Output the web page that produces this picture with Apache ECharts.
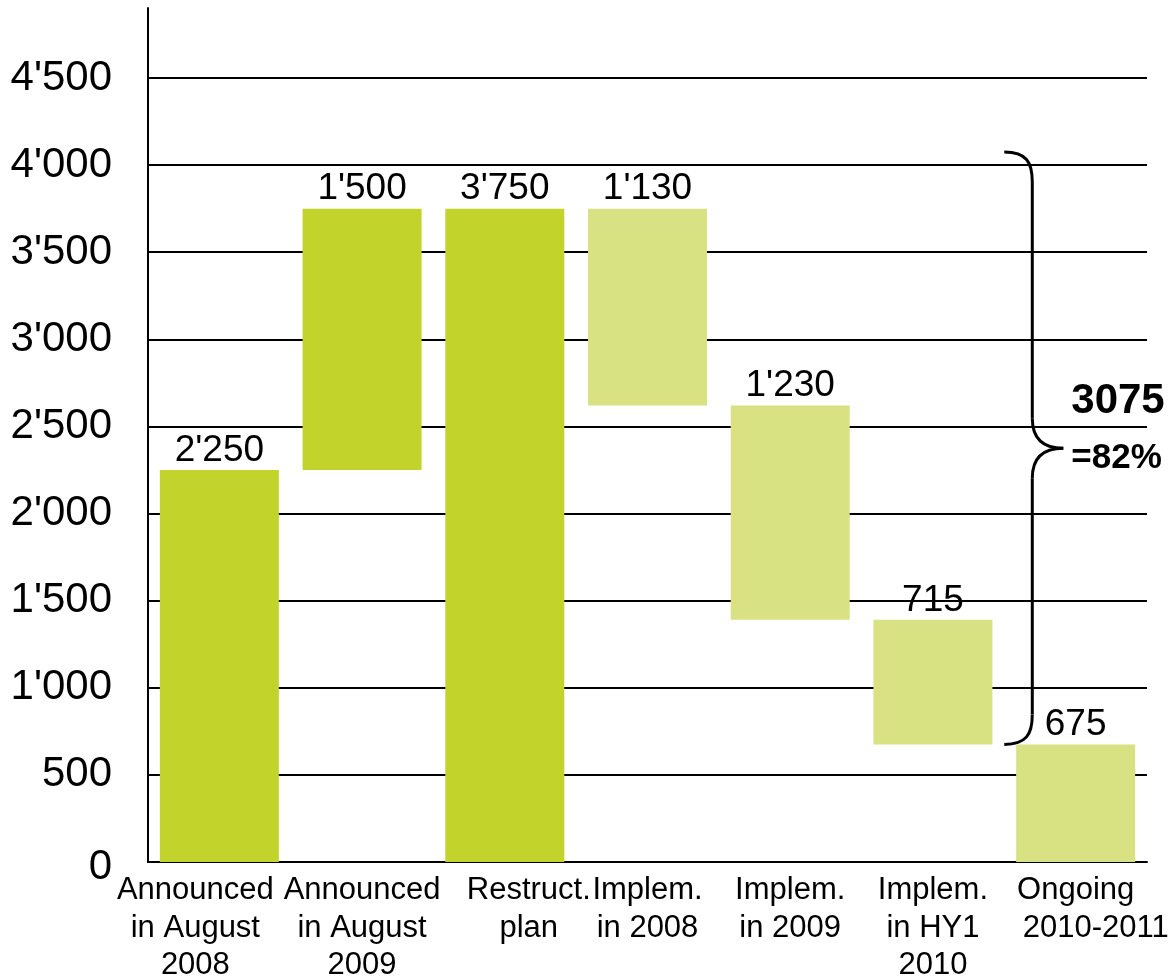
<!DOCTYPE html>
<html>
<head>
<meta charset="utf-8">
<script src="https://cdn.jsdelivr.net/npm/echarts@6/dist/echarts.min.js"></script>
<style>
html, body { margin: 0; padding: 0; background: #fff; }
#chart { width: 1171px; height: 976px; }
</style>
</head>
<body>
<div id="chart"></div>
<script>
// data
const categories = [
  "Announced\nin August\n2008",
  "Announced\nin August\n2009",
  "Restruct.\nplan",
  "Implem.\nin 2008",
  "Implem.\nin 2009",
  "Implem.\nin HY1\n2010",
  "Ongoing\n2010-2011"
];
const values = [2250, 1500, 3750, 1130, 1230, 715, 675];
const steps = ["up", "up", "total", "down", "down", "down", "down"];
const yMin = 0, yMax = 4500, yStep = 500;
const braceRange = [675, 4075];
const braceText = ["3075", "=82%"];

const FONT = "'Liberation Sans', Arial, sans-serif";
const DARK = "#C2D32B";
const LIGHT = "#D8E282";

// running totals -> invisible base of each floating bar
let running = 0;
const bases = values.map((v, i) => {
  if (steps[i] === "up") { let b = running; running += v; return b; }
  if (steps[i] === "total") { running = v; return 0; }
  running -= v;
  return running;
});

function fmt(v) {
  return String(v).replace(/\B(?=(\d{3})+(?!\d))/g, "'");
}

let myChart = echarts.init(document.getElementById("chart"));
let options = {
  animation: false,
  grid: [
    { left: 148, right: 24, top: 78, bottom: 114, outerBoundsMode: "none", containLabel: false },
    { left: 148, right: 24, top: 8, bottom: 114, outerBoundsMode: "none", containLabel: false }
  ],
  xAxis: [
    {
      type: "category",
      data: categories,
      gridIndex: 0,
      axisLine: { lineStyle: { color: "#000", width: 2 } },
      axisTick: { show: false },
      axisLabel: {
        interval: 0,
        margin: 10,
        formatter: function (val, idx) {
          return val.split("\n").map(function (line, li) {
            let s = "n";
            if (idx === 0) s = "l";
            if (idx === 2) s = "r";
            if (idx === 6 && li === 1) s = "o";
            return "{" + s + "|" + line + "}";
          }).join("\n");
        },
        rich: {
          n: { fontSize: 31, lineHeight: 37.5, fontFamily: FONT, color: "#000" },
          l: { fontSize: 31, lineHeight: 37.5, fontFamily: FONT, color: "#000", padding: [0, 48, 0, 0] },
          r: { fontSize: 31, lineHeight: 37.5, fontFamily: FONT, color: "#000", padding: [0, 0, 0, 48] },
          o: { fontSize: 31, lineHeight: 37.5, fontFamily: FONT, color: "#000", padding: [0, 0, 0, 40] }
        }
      }
    },
    { type: "value", gridIndex: 1, show: false, min: 0, max: 1 }
  ],
  yAxis: [
    {
      type: "value",
      gridIndex: 0,
      min: yMin,
      max: yMax,
      interval: yStep,
      axisLine: { show: true, lineStyle: { color: "#000", width: 2 } },
      axisTick: { show: false },
      splitLine: { lineStyle: { color: "#000", width: 2 } },
      axisLabel: {
        margin: 36,
        color: "#000",
        fontSize: 42,
        fontFamily: FONT,
        formatter: function (v) {
          return v === 0 ? "{z|0}" : fmt(v);
        },
        rich: {
          z: { fontSize: 42, fontFamily: FONT, color: "#000", padding: [10, 0, 0, 0] }
        }
      }
    },
    {
      type: "value",
      gridIndex: 1,
      min: 0,
      max: 1,
      axisLine: { show: true, lineStyle: { color: "#000", width: 2 } },
      axisTick: { show: false },
      axisLabel: { show: false },
      splitLine: { show: false }
    }
  ],
  series: [
    {
      name: "base",
      type: "bar",
      stack: "w",
      silent: true,
      barWidth: 119,
      itemStyle: { color: "transparent" },
      data: bases
    },
    {
      name: "value",
      type: "bar",
      stack: "w",
      barWidth: 119,
      data: values.map(function (v, i) {
        return { value: v, itemStyle: { color: steps[i] === "down" ? LIGHT : DARK } };
      }),
      label: {
        show: true,
        position: "top",
        distance: 1,
        color: "#000",
        fontSize: 37,
        fontFamily: FONT,
        formatter: function (p) { return fmt(p.value); }
      }
    },
    { type: "line", xAxisIndex: 1, yAxisIndex: 1, data: [] }
  ]
};
myChart.setOption(options);

// curly brace + total annotation
let xa = myChart.convertToPixel({ xAxisIndex: 0 }, 5);
let xb = myChart.convertToPixel({ xAxisIndex: 0 }, 6);
let x0 = (xa + xb) / 2;
let yTop = myChart.convertToPixel({ yAxisIndex: 0 }, braceRange[1]);
let yBot = myChart.convertToPixel({ yAxisIndex: 0 }, braceRange[0]);
let yMid = (yTop + yBot) / 2;
let xv = x0 + 28, xt = x0 + 59;
let stroke = { stroke: "#000", lineWidth: 3, fill: "none" };

myChart.setOption({
  graphic: [
    { type: "bezierCurve", shape: { x1: x0, y1: yTop, cpx1: x0 + 22, cpy1: yTop, cpx2: xv, cpy2: yTop + 10, x2: xv, y2: yTop + 30 }, style: stroke },
    { type: "line", shape: { x1: xv, y1: yTop + 30, x2: xv, y2: yMid - 30 }, style: stroke },
    { type: "bezierCurve", shape: { x1: xv, y1: yMid - 30, cpx1: xv, cpy1: yMid - 8, cpx2: xv + 12, cpy2: yMid, x2: xt, y2: yMid }, style: stroke },
    { type: "bezierCurve", shape: { x1: xt, y1: yMid, cpx1: xv + 12, cpy1: yMid, cpx2: xv, cpy2: yMid + 8, x2: xv, y2: yMid + 30 }, style: stroke },
    { type: "line", shape: { x1: xv, y1: yMid + 30, x2: xv, y2: yBot - 30 }, style: stroke },
    { type: "bezierCurve", shape: { x1: xv, y1: yBot - 30, cpx1: xv, cpy1: yBot - 10, cpx2: x0 + 22, cpy2: yBot, x2: x0, y2: yBot }, style: stroke },
    {
      type: "text",
      style: { text: braceText[0], x: xt + 8, y: yMid - 47, font: "bold 42px " + FONT, fill: "#000", textVerticalAlign: "middle" }
    },
    {
      type: "text",
      style: { text: braceText[1], x: xt + 8, y: yMid + 10, font: "bold 35px " + FONT, fill: "#000", textVerticalAlign: "middle" }
    }
  ]
});
</script>
</body>
</html>
